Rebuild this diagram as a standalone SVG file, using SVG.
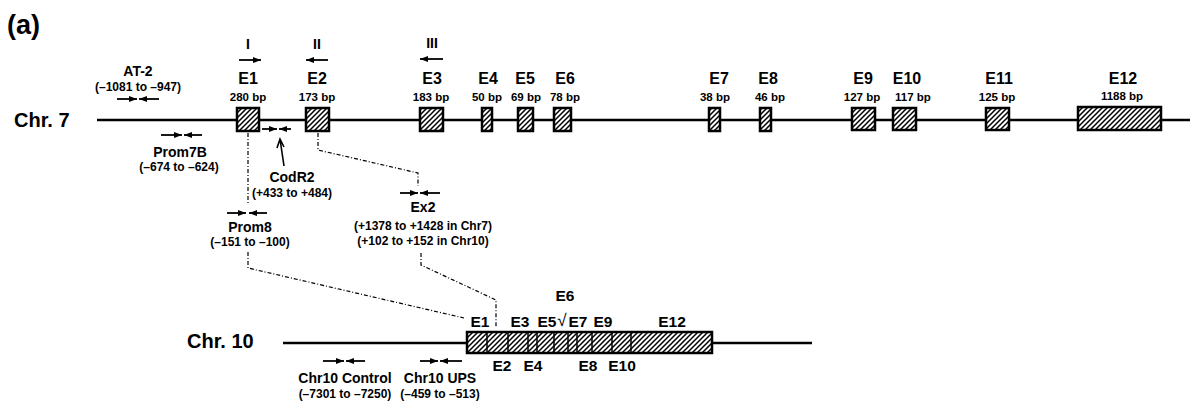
<svg xmlns="http://www.w3.org/2000/svg" width="1193" height="406" viewBox="0 0 1193 406">
<style>
text{font-family:"Liberation Sans",Arial,sans-serif;font-weight:bold;fill:#000;text-anchor:middle}
.chr{font-size:20px;text-anchor:start}
.ex{font-size:16px}
.bp{font-size:11.5px}
.ex10{font-size:15.5px}
.pn{font-size:14px}
.rg{font-size:12px}
.rn{font-size:14px}
.line{stroke:#000;stroke-width:2.5;fill:none}
.exon{fill:url(#hatch);stroke:#000;stroke-width:2.5}
.pr{stroke:#000;stroke-width:1.8;fill:none;marker-end:url(#ah)}
.dd{stroke:#000;stroke-width:1.2;fill:none;stroke-dasharray:4 2 1 2}
.div{stroke:#000;stroke-width:1.5}
</style>
<defs>
<pattern id="hatch" patternUnits="userSpaceOnUse" width="5" height="5">
<rect width="5" height="5" fill="#fff"/>
<path d="M-1,1 l2,-2 M0,5 l5,-5 M4,6 l2,-2" stroke="#000" stroke-width="1.5"/>
</pattern>
<marker id="ah" viewBox="0 0 8 6" refX="8" refY="3" markerWidth="8" markerHeight="6" markerUnits="userSpaceOnUse" orient="auto">
<path d="M0,0 L8,3 L0,6 z" fill="#000"/>
</marker>
</defs>
<rect width="1193" height="406" fill="#fff"/>
<text x="7" y="34" style="font-size:27px;text-anchor:start">(a)</text>

<g id="chr7">
<text class="chr" x="14" y="127">Chr. 7</text>
<line class="line" x1="97" y1="120" x2="1190" y2="120"/>
</g>
<g id="chr10">
<text class="chr" x="187" y="348">Chr. 10</text>
<line class="line" x1="283" y1="343" x2="812" y2="343" stroke-width="2"/>
</g>

<g id="exon-E1"><rect class="exon" x="237" y="108" width="22" height="23"/><text class="ex" x="248" y="84">E1</text><text class="bp" x="248" y="101">280 bp</text></g>
<g id="exon-E2"><rect class="exon" x="306" y="108" width="23" height="23"/><text class="ex" x="317" y="84">E2</text><text class="bp" x="317" y="101">173 bp</text></g>
<g id="exon-E3"><rect class="exon" x="420" y="108" width="23" height="23"/><text class="ex" x="432" y="84">E3</text><text class="bp" x="431" y="101">183 bp</text></g>
<g id="exon-E4"><rect class="exon" x="482" y="108" width="10" height="23"/><text class="ex" x="488" y="84">E4</text><text class="bp" x="487" y="101">50 bp</text></g>
<g id="exon-E5"><rect class="exon" x="518" y="108" width="15" height="23"/><text class="ex" x="525" y="84">E5</text><text class="bp" x="526" y="101">69 bp</text></g>
<g id="exon-E6"><rect class="exon" x="554" y="108" width="17" height="23"/><text class="ex" x="565" y="84">E6</text><text class="bp" x="565" y="101">78 bp</text></g>
<g id="exon-E7"><rect class="exon" x="709" y="108" width="11" height="23"/><text class="ex" x="719" y="84">E7</text><text class="bp" x="715" y="101">38 bp</text></g>
<g id="exon-E8"><rect class="exon" x="760" y="108" width="11" height="23"/><text class="ex" x="768" y="84">E8</text><text class="bp" x="770" y="101">46 bp</text></g>
<g id="exon-E9"><rect class="exon" x="852" y="108" width="23" height="22"/><text class="ex" x="863" y="84">E9</text><text class="bp" x="862" y="101">127 bp</text></g>
<g id="exon-E10"><rect class="exon" x="893" y="108" width="23" height="22"/><text class="ex" x="907" y="84">E10</text><text class="bp" x="913" y="101">117 bp</text></g>
<g id="exon-E11"><rect class="exon" x="986" y="108" width="23" height="22"/><text class="ex" x="999" y="84">E11</text><text class="bp" x="997" y="101">125 bp</text></g>
<g id="exon-E12"><rect class="exon" x="1078" y="107" width="83" height="23"/><text class="ex" x="1123" y="84">E12</text><text class="bp" x="1122" y="100">1188 bp</text></g>

<g id="primer-I"><text class="rn" x="248" y="49">I</text><line class="pr" x1="239" y1="60" x2="261" y2="60"/></g>
<g id="primer-II"><text class="rn" x="317" y="49">II</text><line class="pr" x1="328" y1="60" x2="306" y2="60"/></g>
<g id="primer-III"><text class="rn" x="432" y="48">III</text><line class="pr" x1="443" y1="59" x2="420" y2="59"/></g>

<g id="primer-AT2"><text class="pn" x="138" y="76">AT-2</text><text class="rg" x="138" y="91">(–1081 to –947)</text><line class="pr" x1="117" y1="99" x2="137" y2="99"/><line class="pr" x1="159" y1="99" x2="139" y2="99"/></g>
<g id="primer-Prom7B"><line class="pr" x1="161" y1="135" x2="182" y2="135"/><line class="pr" x1="202" y1="135" x2="184" y2="135"/><text class="pn" x="180" y="157">Prom7B</text><text class="rg" x="179" y="171">(–674 to –624)</text></g>
<g id="primer-CodR2"><line class="pr" x1="262" y1="129" x2="277" y2="129"/><line class="pr" x1="291" y1="129" x2="279" y2="129"/><text class="pn" x="292" y="182">CodR2</text><text class="rg" x="292" y="197">(+433 to +484)</text></g>
<g id="primer-Prom8"><line class="pr" x1="227" y1="213" x2="246" y2="213"/><line class="pr" x1="267" y1="213" x2="249" y2="213"/><text class="pn" x="250" y="232">Prom8</text><text class="rg" x="250" y="246">(–151 to –100)</text></g>
<g id="primer-Ex2"><line class="pr" x1="400" y1="193" x2="418" y2="193"/><line class="pr" x1="440" y1="193" x2="420" y2="193"/><text class="pn" x="423" y="212">Ex2</text><text class="rg" x="423" y="230">(+1378 to +1428 in Chr7)</text><text class="rg" x="423" y="245">(+102 to +152 in Chr10)</text></g>
<g id="primer-Chr10Control"><line class="pr" x1="323" y1="361" x2="344" y2="361"/><line class="pr" x1="365" y1="361" x2="346" y2="361"/><text class="pn" x="345" y="383">Chr10 Control</text><text class="rg" x="345" y="398">(–7301 to –7250)</text></g>
<g id="primer-Chr10UPS"><line class="pr" x1="420" y1="361" x2="438" y2="361"/><line class="pr" x1="462" y1="361" x2="440" y2="361"/><text class="pn" x="440" y="383">Chr10 UPS</text><text class="rg" x="440" y="398">(–459 to –513)</text></g>

<g id="chr10-exons">
<rect class="exon" x="467" y="332" width="245" height="21"/>
<line class="div" x1="487" y1="332" x2="487" y2="353"/>
<line class="div" x1="508" y1="332" x2="508" y2="353"/>
<line class="div" x1="528" y1="332" x2="528" y2="353"/>
<line class="div" x1="537" y1="332" x2="537" y2="353"/>
<line class="div" x1="554" y1="332" x2="554" y2="353"/>
<line class="div" x1="568" y1="332" x2="568" y2="353"/>
<line class="div" x1="577" y1="332" x2="577" y2="353"/>
<line class="div" x1="592" y1="332" x2="592" y2="353"/>
<line class="div" x1="612" y1="332" x2="612" y2="353"/>
<line class="div" x1="631" y1="332" x2="631" y2="353"/>
<text class="ex10" x="480" y="327">E1</text>
<text class="ex10" x="520" y="327">E3</text>
<text class="ex10" x="547" y="327">E5</text>
<text class="ex10" x="565" y="301">E6</text>
<text x="562" y="326" style="font-size:17px;font-weight:normal">√</text>
<text class="ex10" x="578" y="327">E7</text>
<text class="ex10" x="603" y="327">E9</text>
<text class="ex10" x="672" y="327">E12</text>
<text class="ex10" x="502" y="371">E2</text>
<text class="ex10" x="533" y="371">E4</text>
<text class="ex10" x="588" y="371">E8</text>
<text class="ex10" x="622" y="371">E10</text>
</g>

<g id="connectors">
<polyline class="dd" points="248,133 248,205"/>
<polyline class="dd" points="248,252 248,268 464,318"/>
<polyline class="dd" points="318,133 318,150 418,173 418,186"/>
<polyline class="dd" points="421,253 421,265 496,300 496,328"/>
<path d="M284,166 L280,139 M277,148 L280,139 L284,147" stroke="#000" stroke-width="1.6" fill="none"/>
</g>
</svg>
